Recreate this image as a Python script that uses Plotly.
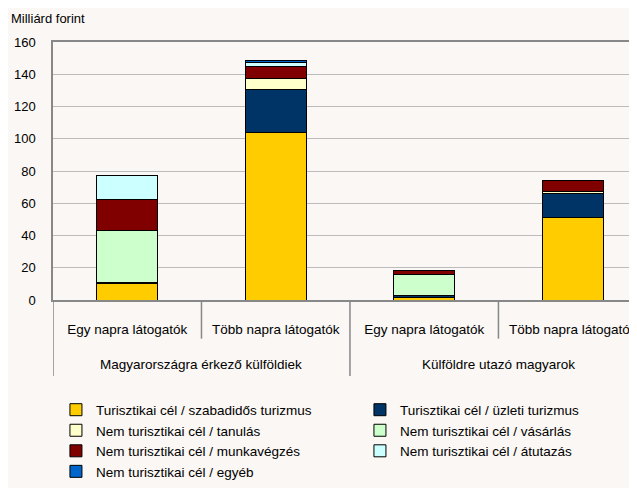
import plotly.graph_objects as go

categories = ["Egy napra látogatók", "Több napra látogatók", "Egy napra látogatók", "Több napra látogatók"]
groups = ["Magyarországra érkező külföldiek", "Külföldre utazó magyarok"]
series_names = [
    "Turisztikai cél / szabadidős turizmus",
    "Turisztikai cél / üzleti turizmus",
    "Nem turisztikai cél / tanulás",
    "Nem turisztikai cél / vásárlás",
    "Nem turisztikai cél / munkavégzés",
    "Nem turisztikai cél / átutazás",
    "Nem turisztikai cél / egyéb",
]
szabadidos = [10.2, 104.0, 1.7, 51.1]
uzleti = [0.4, 26.4, 1.2, 15.1]
tanulas = [0.4, 6.9, 0.2, 1.2]
vasarlas = [32.2, 0.2, 13.0, 0.1]
munkavegzes = [19.3, 7.2, 1.9, 6.5]
atutazas = [14.9, 2.9, 0.1, 0.1]
egyeb = [0.1, 1.0, 0.1, 0.1]
series_values = [szabadidos, uzleti, tanulas, vasarlas, munkavegzes, atutazas, egyeb]
colors = ["#FFCC00", "#003366", "#FFFFCC", "#CCFFCC", "#800000", "#CCFFFF", "#0066CC"]
y_ticks = [0, 20, 40, 60, 80, 100, 120, 140, 160]

BG = "#FAF7F4"
FONT = "Liberation Sans, Arial, sans-serif"
xpos = list(range(len(categories)))

fig = go.Figure()
for name, vals, col in zip(series_names, series_values, colors):
    fig.add_trace(go.Bar(
        x=xpos, y=vals, name=name, width=0.41,
        marker=dict(color=col, line=dict(color="#000000", width=1)),
    ))

# dividers under the x axis
shapes = []
for xv, outer in [(-0.5, True), (0.5, False), (1.5, True), (2.5, False), (3.5, True)]:
    shapes.append(dict(type="line", xref="x", yref="paper", x0=xv, x1=xv,
                       y0=0, y1=-0.295 if outer else -0.15,
                       line=dict(color="#888888", width=1.5)))

annotations = [
    dict(text="Milliárd forint", xref="paper", yref="paper", x=-0.074, y=1.093,
         xanchor="left", yanchor="middle", showarrow=False,
         font=dict(size=13, color="#000000", family=FONT)),
]
for gi, g in enumerate(groups):
    annotations.append(dict(text=g, xref="x", yref="paper", x=0.5 + 2 * gi, y=-0.25,
                            xanchor="center", yanchor="middle", showarrow=False,
                            font=dict(size=13.5, color="#000000", family=FONT)))

fig.update_layout(
    barmode="stack",
    width=637, height=488,
    paper_bgcolor=BG, plot_bgcolor=BG,
    font=dict(family=FONT, size=13, color="#000000"),
    margin=dict(l=45, r=0, t=34, b=196.3, autoexpand=False),
    showlegend=True,
    legend=dict(orientation="h", x=-0.0001, xanchor="left", y=-0.366, yanchor="top",
                entrywidth=256, entrywidthmode="pixels", traceorder="normal",
                indentation=3,
                font=dict(size=13.5, family=FONT, color="#000000"), bgcolor="rgba(0,0,0,0)"),
    xaxis=dict(tickvals=xpos, ticktext=categories, range=[-0.5, 3.487],
               showline=True, mirror=True, linecolor="#888888", linewidth=1.5,
               showgrid=False, zeroline=False, ticks="", ticklabelstandoff=16,
               tickfont=dict(size=13.5, family=FONT, color="#000000")),
    yaxis=dict(range=[0, 160], tickvals=y_ticks, showline=True, linecolor="#888888",
               linewidth=1.5, gridcolor="#BBBBBB", gridwidth=1.3, zeroline=False,
               ticks="", ticklabelstandoff=13,
               tickfont=dict(size=13, family=FONT, color="#000000")),
    shapes=shapes,
    annotations=annotations,
)

fig.write_html("out.html")
